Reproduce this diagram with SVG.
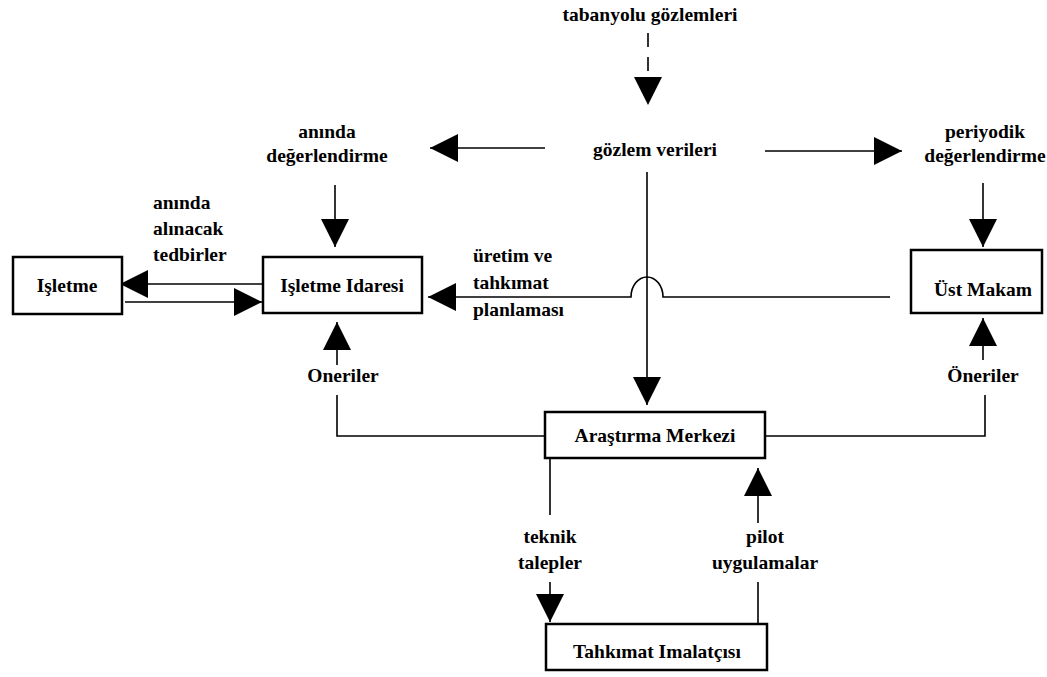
<svg xmlns="http://www.w3.org/2000/svg" width="1047" height="677" viewBox="0 0 1047 677">
<defs>
<style>
text{font-family:"Liberation Serif","DejaVu Serif",serif;font-weight:bold;font-size:19.5px;fill:#000}
.c{text-anchor:middle}
.box{fill:#fff;stroke:#000;stroke-width:2.5}
.ln{fill:none;stroke:#000;stroke-width:1.6}
.ar{marker-end:url(#ah)}
.dash{stroke-dasharray:14 10}
</style>
<marker id="ah" viewBox="0 0 28 28" refX="28" refY="14" markerUnits="userSpaceOnUse" markerWidth="28" markerHeight="28" orient="auto">
<path d="M0,0 L28,14 L0,28 Z" fill="#000"/>
</marker>
</defs>
<rect width="1047" height="677" fill="#fff"/>

<g id="connectors">
<path class="ln dash ar" d="M648,33 L648,105"/>
<path class="ln ar" d="M545,148 L430,148"/>
<path class="ln ar" d="M765,151 L902,151"/>
<path class="ln ar" d="M335,185 L335,247"/>
<path class="ln ar" d="M262,284 L120,284"/>
<path class="ln ar" d="M125,302 L262,302"/>
<path class="ln ar" d="M890,297 H663 A16,20 0 0 0 631,297 H428"/>
<path class="ln ar" d="M647,172 L647,405"/>
<path class="ln ar" d="M983,183 L983,247"/>
<path class="ln" d="M545,436 H337 V395"/>
<path class="ln ar" d="M337,365 L337,322"/>
<path class="ln" d="M765,436 H985 V395"/>
<path class="ln ar" d="M983,360 L983,318"/>
<path class="ln" d="M550,458 V515"/>
<path class="ln ar" d="M550,582 V622"/>
<path class="ln" d="M758,624 V582"/>
<path class="ln ar" d="M758,523 V468"/>
</g>

<g id="tabanyolu"><text class="c" x="650" y="21">tabanyolu gözlemleri</text></g>
<g id="gozlem"><text class="c" x="655" y="156">gözlem verileri</text></g>
<g id="aninda-degerlendirme">
<text class="c" x="327" y="138">anında</text>
<text class="c" x="327" y="162">değerlendirme</text>
</g>
<g id="periyodik">
<text class="c" x="985" y="138">periyodik</text>
<text class="c" x="985" y="162">değerlendirme</text>
</g>
<g id="tedbirler">
<text x="153" y="209">anında</text>
<text x="153" y="235">alınacak</text>
<text x="153" y="261">tedbirler</text>
</g>
<g id="isletme">
<rect class="box" x="13" y="257" width="109" height="57"/>
<text class="c" x="67" y="292">Işletme</text>
</g>
<g id="isletme-idaresi">
<rect class="box" x="263" y="257" width="159" height="56"/>
<text class="c" x="342" y="292">Işletme Idaresi</text>
</g>
<g id="uretim">
<text x="473" y="262">üretim ve</text>
<text x="473" y="289">tahkımat</text>
<text x="473" y="316">planlaması</text>
</g>
<g id="ust-makam">
<rect class="box" x="911" y="250" width="131" height="63"/>
<text class="c" x="983" y="296">Üst Makam</text>
</g>
<g id="oneriler-left"><text class="c" x="343" y="382">Oneriler</text></g>
<g id="oneriler-right"><text class="c" x="983" y="382">Öneriler</text></g>
<g id="arastirma">
<rect class="box" x="545" y="412" width="220" height="46"/>
<text class="c" x="655" y="442">Araştırma Merkezi</text>
</g>
<g id="teknik">
<text class="c" x="550" y="543">teknik</text>
<text class="c" x="550" y="569">talepler</text>
</g>
<g id="pilot">
<text class="c" x="765" y="543">pilot</text>
<text class="c" x="765" y="569">uygulamalar</text>
</g>
<g id="tahkimat">
<rect class="box" x="546" y="624" width="221" height="46"/>
<text class="c" x="657" y="658">Tahkımat Imalatçısı</text>
</g>
</svg>
